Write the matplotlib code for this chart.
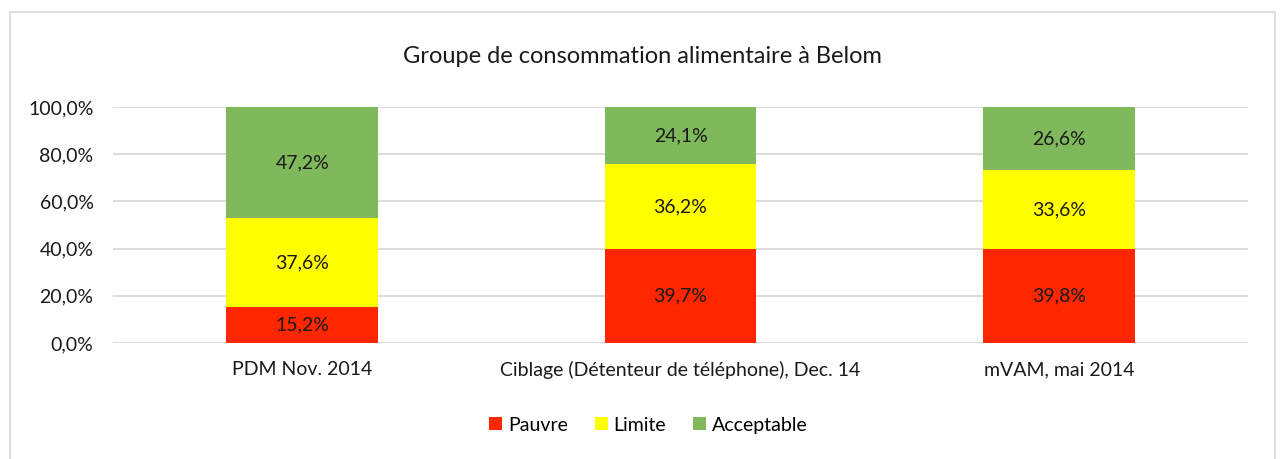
import numpy as np
import matplotlib.pyplot as plt
from matplotlib.patches import Rectangle

categories = ["PDM Nov. 2014", "Ciblage (Détenteur de téléphone), Dec. 14", "mVAM, mai 2014"]
pauvre = [15.2, 39.7, 39.8]
limite = [37.6, 36.2, 33.6]
acceptable = [47.2, 24.1, 26.6]
series = [("Pauvre", pauvre, "#FF2600"), ("Limite", limite, "#FFFF00"), ("Acceptable", acceptable, "#80B85C")]

plt.rcParams['font.family'] = ['Lato', 'DejaVu Sans']

fig = plt.figure(figsize=(12.84, 4.59), dpi=100)
ax = fig.add_axes([0.088, 0.2527, 0.884, 0.5142])

x = np.arange(len(categories))
bottom = np.zeros(len(categories))
for name, vals, col in series:
    vals = np.array(vals)
    ax.bar(x, vals, 0.40, bottom=bottom, color=col, label=name, zorder=3)
    for xi, b, v in zip(x, bottom, vals):
        ax.text(xi, b + v / 2, f"{v:.1f}%".replace(".", ","), ha="center", va="center",
                fontsize=14, color="#1a1a1a", zorder=4)
    bottom += vals

ax.set_xlim(-0.5, 2.5)
ax.set_ylim(0, 100)
ax.set_yticks(np.arange(0, 101, 20))
ax.set_yticklabels([f"{t:.1f}%".replace(".", ",") for t in np.arange(0, 101, 20)], fontsize=14, color="#1a1a1a")
ax.set_xticks(x)
ax.set_xticklabels(categories, fontsize=14, color="#1a1a1a")
ax.tick_params(length=0)
ax.tick_params(axis="y", pad=14)
ax.tick_params(axis="x", pad=13)
ax.grid(axis="y", color="#D9D9D9", linewidth=1.3, zorder=0)
for s in ax.spines.values():
    s.set_visible(False)

fig.text(0.5, 0.876, "Groupe de consommation alimentaire à Belom", ha="center", va="center",
         fontsize=17, color="#1a1a1a")

leg = fig.legend(loc="center", bbox_to_anchor=(0.505, 0.074), ncol=3, frameon=False,
                 fontsize=14, handlelength=0.65, handleheight=0.65, handletextpad=0.3,
                 columnspacing=1.4)

fig.patches.append(Rectangle((10 / 1284, -0.05), 1265 / 1284, 1.05 - 12 / 459,
                             transform=fig.transFigure, fill=False, edgecolor="#D9D9D9", linewidth=1.2))

fig.savefig("out.png", dpi=100)
